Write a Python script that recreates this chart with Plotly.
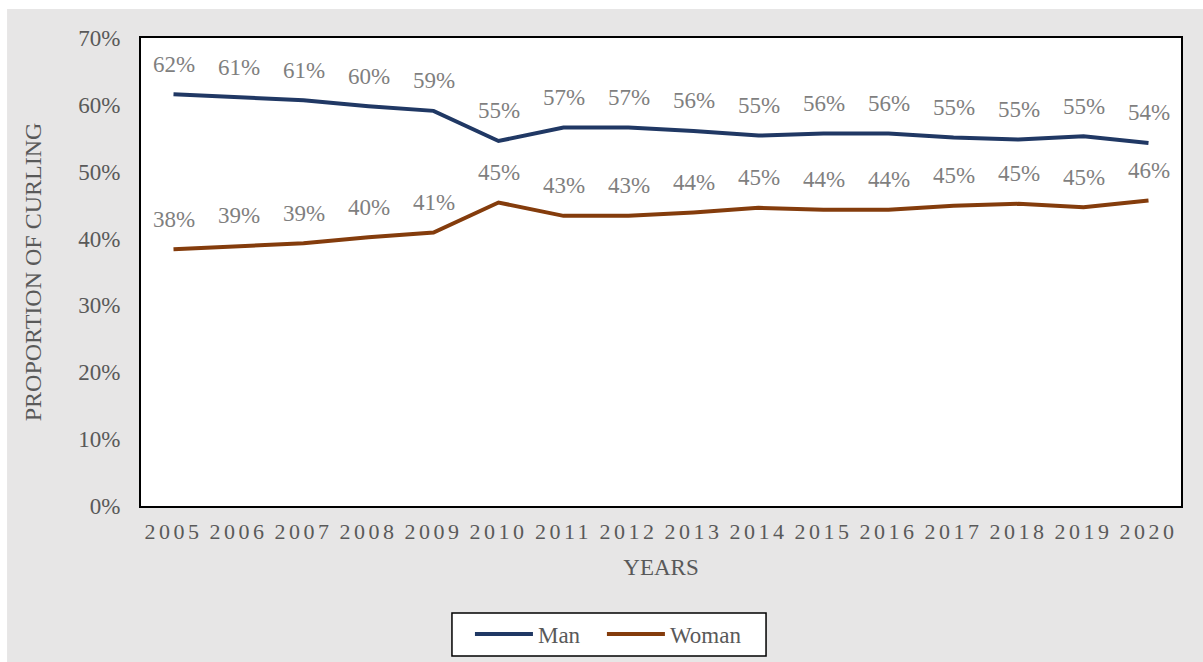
import plotly.graph_objects as go

years = [str(y) for y in range(2005, 2021)]
man = [61.6, 61.1, 60.7, 59.8, 59.1, 54.6, 56.6, 56.6, 56.1, 55.4, 55.7, 55.7, 55.1, 54.8, 55.3, 54.3]
woman = [38.4, 38.9, 39.3, 40.2, 40.9, 45.4, 43.4, 43.4, 43.9, 44.6, 44.3, 44.3, 44.9, 45.2, 44.7, 45.7]
y_ticks = [0, 10, 20, 30, 40, 50, 60, 70]

FONT = "Liberation Serif, Times New Roman, serif"
MAN_COLOR = "#203864"
WOMAN_COLOR = "#843c0c"
LABEL_GRAY = "#7f7f7f"
AXIS_GRAY = "#595959"
BG = "#e7e6e6"

fig = go.Figure()
fig.add_trace(go.Scatter(x=years, y=man, mode="lines", name="Man", legend="legend",
                         line=dict(color=MAN_COLOR, width=4)))
fig.add_trace(go.Scatter(x=years, y=woman, mode="lines", name="Woman", legend="legend2",
                         line=dict(color=WOMAN_COLOR, width=4)))

# value labels above each point (x given as category index)
annotations = []
for series in (man, woman):
    for i, v in enumerate(series):
        annotations.append(dict(x=i, y=v, xref="x", yref="y", text=f"{v:.0f}%",
                                showarrow=False, yshift=30,
                                font=dict(family=FONT, size=23, color=LABEL_GRAY)))

# spaced-out year labels
tick_text = [f'<span style="letter-spacing:3.5px">{y}</span>' for y in years]

legend_style = dict(orientation="h", xanchor="left", y=-0.2735, yanchor="middle",
                    bgcolor="rgba(0,0,0,0)", borderwidth=0,
                    font=dict(family=FONT, size=23, color=AXIS_GRAY), itemwidth=58)

fig.update_layout(
    width=1203, height=662,
    margin=dict(l=141, r=22, t=38, b=156, autoexpand=False),
    paper_bgcolor=BG, plot_bgcolor="white",
    font=dict(family=FONT, size=22, color=AXIS_GRAY),
    annotations=annotations,
    showlegend=True,
    legend=dict(x=0.3163, **legend_style),
    legend2=dict(x=0.4432, **legend_style),
    shapes=[
        # white margin strips around the grey panel
        dict(type="rect", xref="paper", yref="paper", x0=-0.2, x1=-0.1288, y0=-0.5, y1=1.2,
             fillcolor="white", line=dict(width=0), layer="below"),
        dict(type="rect", xref="paper", yref="paper", x0=-0.2, x1=1.1, y0=1.062, y1=1.2,
             fillcolor="white", line=dict(width=0), layer="below"),
        # legend frame
        dict(type="rect", xref="paper", yref="paper", x0=0.2990, x1=0.6010, y0=-0.3205, y1=-0.2286,
             fillcolor="white", line=dict(color="black", width=1.5), layer="above"),
    ],
)

fig.update_xaxes(
    type="category", range=[-0.5, 15.5], automargin=False,
    tickvals=years, ticktext=tick_text,
    showgrid=False, showline=True, linecolor="black", linewidth=2, mirror=True,
    ticks="", ticklabelstandoff=5,
    tickfont=dict(family=FONT, size=22, color=AXIS_GRAY),
    title=dict(text="YEARS", font=dict(family=FONT, size=23, color=AXIS_GRAY), standoff=15),
)
fig.update_yaxes(
    range=[0, 70], tickvals=y_ticks, ticktext=[f"{t}%" for t in y_ticks], automargin=False,
    showgrid=False, zeroline=False, showline=True, linecolor="black", linewidth=2, mirror=True,
    ticks="", ticklabelstandoff=14,
    tickfont=dict(family=FONT, size=23, color=AXIS_GRAY),
    title=dict(text="PROPORTION OF CURLING", font=dict(family=FONT, size=24, color=AXIS_GRAY), standoff=30),
)

fig.write_html("out.html")
